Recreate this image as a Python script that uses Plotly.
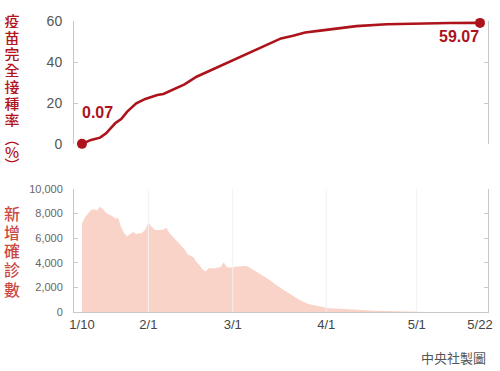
import plotly.graph_objects as go

# ---------------- data ----------------
vax_dates = ["2022-01-10", "2022-01-13", "2022-01-16", "2022-01-18", "2022-01-21",
             "2022-01-23", "2022-01-25", "2022-01-28", "2022-01-31", "2022-02-04",
             "2022-02-06", "2022-02-10", "2022-02-13", "2022-02-17", "2022-02-20",
             "2022-02-23", "2022-02-25", "2022-02-28", "2022-03-04", "2022-03-07",
             "2022-03-11", "2022-03-13", "2022-03-17", "2022-03-21", "2022-03-25",
             "2022-03-30", "2022-04-03", "2022-04-08", "2022-04-11", "2022-04-21",
             "2022-05-03", "2022-05-12", "2022-05-22"]
vax_rate = [0.07, 2.0, 3.1, 5.2, 10.1,
            12.2, 15.8, 19.8, 22.0, 23.9,
            24.4, 27.2, 29.1, 32.8, 34.8,
            37.0, 38.3, 40.2, 42.6, 45.0,
            47.5, 48.6, 51.5, 52.8, 54.4,
            55.3, 56.1, 56.9, 57.5, 58.4,
            58.9, 59.0, 59.07]

case_dates = ["2022-01-10", "2022-01-11", "2022-01-12", "2022-01-13", "2022-01-14",
              "2022-01-15", "2022-01-16", "2022-01-17", "2022-01-18", "2022-01-19",
              "2022-01-20", "2022-01-21", "2022-01-22", "2022-01-23", "2022-01-24",
              "2022-01-25", "2022-01-26", "2022-01-27", "2022-01-28", "2022-01-29",
              "2022-01-30", "2022-01-31", "2022-02-01", "2022-02-02", "2022-02-03",
              "2022-02-04", "2022-02-05", "2022-02-06", "2022-02-07", "2022-02-08",
              "2022-02-10", "2022-02-12", "2022-02-13", "2022-02-14", "2022-02-15",
              "2022-02-16", "2022-02-17", "2022-02-18", "2022-02-19", "2022-02-20",
              "2022-02-21", "2022-02-23", "2022-02-25", "2022-02-26", "2022-02-27",
              "2022-02-28", "2022-03-01", "2022-03-03", "2022-03-05", "2022-03-06",
              "2022-03-07", "2022-03-10", "2022-03-13", "2022-03-16", "2022-03-20",
              "2022-03-23", "2022-03-26", "2022-03-30", "2022-04-02", "2022-04-07",
              "2022-04-17", "2022-04-28", "2022-05-05", "2022-05-22"]
new_cases = [7200, 7700, 8000, 8300, 8350,
             8250, 8550, 8350, 8050, 7950,
             7800, 7600, 7650, 6900, 6400,
             6150, 6350, 6500, 6350, 6400,
             6450, 6700, 7250, 6950, 6700,
             6650, 6650, 6700, 6850, 6400,
             5900, 5400, 5100, 4700, 4550,
             4450, 4050, 3800, 3450, 3300,
             3550, 3550, 3650, 4050, 3650,
             3600, 3650, 3680, 3750, 3700,
             3550, 3150, 2650, 2100, 1500,
             1000, 650, 420, 300, 240,
             110, 40, 10, 5]

tick_dates = ["2022-01-10", "2022-02-01", "2022-03-01", "2022-04-01", "2022-05-01", "2022-05-22"]
tick_labels = ["1/10", "2/1", "3/1", "4/1", "5/1", "5/22"]
grid_dates = ["2022-02-01", "2022-03-01", "2022-04-01", "2022-05-01"]
rate_ticks = [0, 20, 40, 60]
case_ticks = [0, 2000, 4000, 6000, 8000, 10000]

top_title = ["疫", "苗", "完", "全", "接", "種", "率"]
paren_chars = ["︵", "%", "︶"]
bottom_title = ["新", "增", "確", "診", "數"]
credit = "中央社製圖"

# ---------------- styling ----------------
RED = "#ad131b"
TITLE_RED = "#b3141c"
TITLE_RED2 = "#cc4a45"
FILL = "#f9d3c8"
AXIS = "#c8c8c8"
LATIN = "Arial, 'Liberation Sans', Helvetica, sans-serif"
CJK = "'Noto Sans CJK TC', 'Noto Sans CJK SC', sans-serif"

W, H = 500, 371
PLOT_L, PLOT_R, PLOT_T, PLOT_B = 74, 488, 21, 312
L, R, T, B = PLOT_L, W - PLOT_R, PLOT_T, H - PLOT_B
PH = H - T - B
PW = W - L - R


def py(ypx):
    return (PLOT_B - ypx) / PH


def pxx(xpx):
    return (xpx - PLOT_L) / PW


xr = ["2022-01-07 08:24", "2022-05-24 15:36"]

fig = go.Figure()

fig.add_trace(go.Scatter(
    x=case_dates, y=new_cases, mode="lines", fill="tozeroy",
    fillcolor=FILL, line=dict(width=0, color=FILL),
    xaxis="x2", yaxis="y2", hoverinfo="skip"))

fig.add_trace(go.Scatter(
    x=vax_dates, y=vax_rate, mode="lines",
    line=dict(color=RED, width=2.6),
    xaxis="x", yaxis="y", hoverinfo="skip"))

fig.add_trace(go.Scatter(
    x=[vax_dates[0], vax_dates[-1]], y=[vax_rate[0], vax_rate[-1]],
    mode="markers", marker=dict(size=10, color=RED),
    xaxis="x", yaxis="y", hoverinfo="skip", cliponaxis=False))

shapes = []
for d in grid_dates:
    shapes.append(dict(type="line", xref="x2", yref="y2 domain",
                       x0=d, x1=d, y0=0, y1=1, layer="above",
                       line=dict(color="#f1f1f1", width=1)))

annotations = [
    dict(x=vax_dates[0], y=vax_rate[0], xref="x", yref="y",
         text="<b>%.2f</b>" % vax_rate[0], showarrow=False,
         xanchor="left", yanchor="middle", xshift=-2, yshift=31,
         font=dict(family=LATIN, size=16, color=RED)),
    dict(x=vax_dates[-1], y=vax_rate[-1], xref="x", yref="y",
         text="<b>%.2f</b>" % vax_rate[-1], showarrow=False,
         xanchor="right", yanchor="middle", xshift=1, yshift=-14,
         font=dict(family=LATIN, size=16, color=RED)),
    dict(x=1, y=py(358), xref="paper", yref="paper", text=credit,
         showarrow=False, xanchor="right", yanchor="middle",
         font=dict(family=CJK, size=13, color="#555555")),
]


def char_note(ch, ypx, color, size, box):
    return dict(x=pxx(12), y=py(ypx), xref="paper", yref="paper",
                text=ch, showarrow=False, xanchor="center", yanchor="middle",
                width=box + 2, height=box, valign="middle",
                font=dict(family=CJK, size=size, color=color, weight=500))


top_y = [20, 36.5, 53, 69.5, 86, 102.5, 119]
for ch, yy in zip(top_title, top_y):
    annotations.append(char_note(ch, yy, TITLE_RED, 15, 16))
paren_y = [137, 151, 164]
for ch, yy in zip(paren_chars, paren_y):
    annotations.append(char_note(ch, yy, TITLE_RED, 15, 16))

bot_y = [213, 232, 250, 269, 289]
for ch, yy in zip(bottom_title, bot_y):
    annotations.append(char_note(ch, yy, TITLE_RED2, 16, 18))

fig.update_layout(
    width=W, height=H,
    margin=dict(l=L, r=R, t=T, b=B, pad=0, autoexpand=False),
    paper_bgcolor="white", plot_bgcolor="white",
    showlegend=False,
    xaxis=dict(domain=[0, 1], range=xr, type="date", anchor="y", automargin=False,
               showticklabels=False, showgrid=False, zeroline=False,
               showline=False, ticks=""),
    yaxis=dict(domain=[py(144), py(21)], range=[0, 60], tickvals=rate_ticks,
               automargin=False,
               ticks="inside", ticklen=4, tickcolor=AXIS, showline=True,
               linecolor=AXIS, linewidth=1, mirror="ticks", showgrid=False,
               zeroline=False, ticklabelstandoff=8,
               tickfont=dict(family=LATIN, size=14, color="#555555")),
    xaxis2=dict(domain=[0, 1], range=xr, type="date", anchor="y2", automargin=False,
                tickvals=tick_dates, ticktext=tick_labels, showgrid=False,
                showline=True, linecolor=AXIS, linewidth=1, ticks="",
                zeroline=False,
                tickfont=dict(family=LATIN, size=13, color="#444444")),
    yaxis2=dict(domain=[0, py(189)], range=[0, 10000], tickvals=case_ticks,
                automargin=False,
                tickformat=",", ticks="inside", ticklen=4, tickcolor=AXIS,
                showline=True, linecolor=AXIS, linewidth=1, mirror="ticks",
                showgrid=False, zeroline=False, ticklabelstandoff=8,
                tickfont=dict(family=LATIN, size=11, color="#666666")),
    shapes=shapes,
    annotations=annotations,
)

fig.write_html("out.html",
               config={"displayModeBar": False},
               post_script="document.body.style.margin='0';document.body.style.padding='0';")
